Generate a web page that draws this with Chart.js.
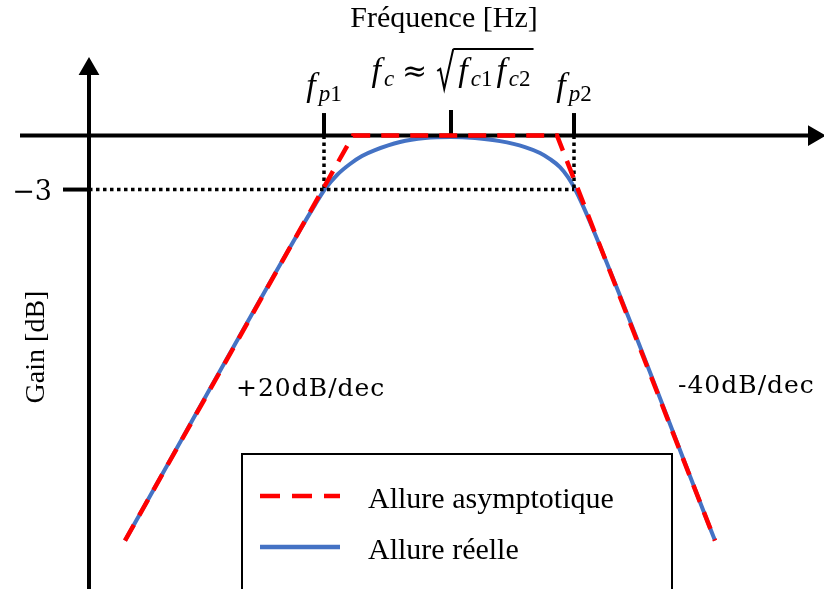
<!DOCTYPE html>
<html lang="fr">
<head>
  <meta charset="UTF-8" />
  <title>Filtre passe-bande - diagramme de Bode</title>
  <script src="https://cdn.jsdelivr.net/npm/chart.js"></script>
  <style>
    body { margin: 0; background: #fff; }
    canvas { display: block; }
  </style>
</head>
<body>
  <canvas id="bode" width="824" height="589"></canvas>

  <script>
    // x = log(f) in arbitrary decades (0 = gain axis), y = gain in dB
    const asymX = [0.36, 2.64, 4.68, 6.26];
    const asymY = [-22.5, 0, 0, -22.5];
    const realX = [0.36, 2.11, 2.26, 2.36, 2.48, 2.61, 2.73, 2.86, 3.11, 3.36, 3.62, 3.86, 4.11, 4.36, 4.51, 4.61, 4.71, 4.79, 4.86, 5.01, 6.26];
    const realY = [-22.5, -5.25, -3.85, -2.97, -2.19, -1.58, -1.14, -0.81, -0.36, -0.14, -0.08, -0.14, -0.31, -0.64, -0.97, -1.31, -1.75, -2.31, -2.97, -4.8, -22.5];
    const freqTicks = [2.35, 3.62, 4.85];      // fp1, fc, fp2
    const freqTickTop = [1.25, 1.42, 1.25];
    const gainTick = -3;
    const axisX = [-0.69, 7.25];               // frequency axis extent
    const axisY = [-26, 3.69];                 // gain axis extent
    const slopeText = ['+20dB/dec', '-40dB/dec'];
    const slopeAt = [[1.47, -14.47], [5.89, -14.3]];
    const legendText = ['Allure asymptotique', 'Allure réelle'];

    const RED = '#ff0000';
    const BLUE = '#4472c4';
    const pts = (xs, ys) => xs.map((x, i) => ({ x, y: ys[i] }));
    const seg = (a, b) => [a, b];

    const black = { borderColor: '#000', borderWidth: 4, pointRadius: 0, order: 1 };
    const dotted = { borderColor: '#000', borderWidth: 3.5, borderDash: [3.5, 3.5], pointRadius: 0, order: 1 };

    const datasets = [
      { label: legendText[0], data: pts(asymX, asymY), borderColor: RED, borderWidth: 4.5,
        borderDash: [18, 11], pointRadius: 0, order: 0 },
      { label: legendText[1], data: pts(realX, realY), borderColor: BLUE, borderWidth: 4,
        cubicInterpolationMode: 'monotone', pointRadius: 0, order: 2 },
      // axes with arrow heads
      { ...black, data: seg({ x: axisX[0], y: 0 }, { x: axisX[1], y: 0 }),
        pointRadius: [0, 8], pointStyle: 'triangle', pointRotation: 90, pointBackgroundColor: '#000', pointBorderColor: '#000' },
      { ...black, data: seg({ x: 0, y: axisY[0] }, { x: 0, y: axisY[1] }),
        pointRadius: [0, 8], pointStyle: 'triangle', pointRotation: 0, pointBackgroundColor: '#000', pointBorderColor: '#000' },
      // gain tick
      { ...black, data: seg({ x: -0.26, y: gainTick }, { x: 0, y: gainTick }) },
      // dotted -3 dB guides
      { ...dotted, data: seg({ x: 0, y: gainTick }, { x: freqTicks[2], y: gainTick }) },
      { ...dotted, data: seg({ x: freqTicks[0], y: 0 }, { x: freqTicks[0], y: gainTick }) },
      { ...dotted, data: seg({ x: freqTicks[2], y: 0 }, { x: freqTicks[2], y: gainTick }) }
    ];
    freqTicks.forEach((f, i) => {
      datasets.push({ ...black, data: seg({ x: f, y: 0 }, { x: f, y: freqTickTop[i] }) });
    });

    const SERIF = '"Liberation Serif", serif';
    const IT = 'italic 34px ' + SERIF;
    const SUB = 'italic 23px ' + SERIF;
    const SUBUP = '23px ' + SERIF;

    // draws a row of text runs centred on cx; run.gap = blank space, run.sqrt = radical
    function drawRuns(ctx, runs, cx, base) {
      let total = 0;
      runs.forEach(r => {
        if (r.t) { ctx.font = r.font; r.w = ctx.measureText(r.t).width; }
        else r.w = r.gap || r.sqrt || 0;
        total += r.w;
      });
      let x = cx - total / 2;
      let sqrtStart = null;
      runs.forEach(r => {
        if (r.t) {
          ctx.font = r.font;
          ctx.fillText(r.t, x, base + (r.dy || 0));
        }
        if (r.sqrt) {
          ctx.save();
          ctx.lineWidth = 2;
          ctx.beginPath();
          ctx.moveTo(x, base - 10);
          ctx.lineTo(x + 3, base - 12);
          ctx.lineTo(x + 7, base + 8);
          ctx.lineTo(x + r.w - 1, base - 32);
          ctx.stroke();
          ctx.restore();
          sqrtStart = x + r.w - 1;
        }
        x += r.w;
      });
      if (sqrtStart !== null) {
        ctx.save();
        ctx.lineWidth = 2;
        ctx.beginPath();
        ctx.moveTo(sqrtStart, base - 32);
        ctx.lineTo(x + 3, base - 32);
        ctx.stroke();
        ctx.restore();
      }
    }

    const annotations = {
      id: 'annotations',
      afterDraw(chart) {
        const { ctx, scales: { x, y } } = chart;
        ctx.save();
        ctx.fillStyle = '#000';
        ctx.strokeStyle = '#000';
        ctx.textBaseline = 'alphabetic';

        // titles
        ctx.font = '30px ' + SERIF;
        ctx.textAlign = 'center';
        ctx.fillText('Fréquence [Hz]', 444, 27);
        ctx.save();
        ctx.translate(44, 347);
        ctx.rotate(-Math.PI / 2);
        ctx.font = '28px ' + SERIF;
        ctx.fillText('Gain [dB]', 0, 0);
        ctx.restore();

        // -3 label
        ctx.textAlign = 'right';
        ctx.font = '27px "DejaVu Serif", serif';
        ctx.fillText('\u22123', 52, y.getPixelForValue(gainTick) + 10);

        // frequency labels
        ctx.textAlign = 'left';
        drawRuns(ctx, [
          { t: 'f', font: IT }, { gap: 3 }, { t: 'p', font: SUB, dy: 5 }, { t: '1', font: SUBUP, dy: 5 }
        ], x.getPixelForValue(freqTicks[0]), 96);
        drawRuns(ctx, [
          { t: 'f', font: IT }, { gap: 3 }, { t: 'p', font: SUB, dy: 5 }, { t: '2', font: SUBUP, dy: 5 }
        ], x.getPixelForValue(freqTicks[2]), 96);
        drawRuns(ctx, [
          { t: 'f', font: IT }, { gap: 3 }, { t: 'c', font: SUB, dy: 5 }, { gap: 8 },
          { t: '\u2248', font: '30px "DejaVu Serif", serif' }, { gap: 10 },
          { sqrt: 17 }, { gap: 4 },
          { t: 'f', font: IT }, { gap: 3 }, { t: 'c', font: SUB, dy: 5 }, { t: '1', font: SUBUP, dy: 5 }, { gap: 4 },
          { t: 'f', font: IT }, { gap: 3 }, { t: 'c', font: SUB, dy: 5 }, { t: '2', font: SUBUP, dy: 5 }
        ], x.getPixelForValue(freqTicks[1]), 81);

        // slopes
        ctx.font = '25px "DejaVu Serif", serif';
        ctx.letterSpacing = '1px';
        slopeText.forEach((t, i) => {
          ctx.fillText(t, x.getPixelForValue(slopeAt[i][0]), y.getPixelForValue(slopeAt[i][1]));
        });
        ctx.letterSpacing = '0px';

        // legend box
        ctx.lineWidth = 2;
        ctx.strokeRect(242, 454, 430, 160);
        const ds = chart.data.datasets;
        [496, 547].forEach((ly, i) => {
          ctx.save();
          ctx.strokeStyle = ds[i].borderColor;
          ctx.lineWidth = 4.5;
          ctx.setLineDash(i === 0 ? [20, 12] : []);
          ctx.beginPath();
          ctx.moveTo(260, ly);
          ctx.lineTo(340, ly);
          ctx.stroke();
          ctx.restore();
          ctx.font = '30px ' + SERIF;
          ctx.fillText(ds[i].label, 368, ly + 12);
        });
        ctx.restore();
      }
    };

    new Chart(document.getElementById('bode'), {
      type: 'scatter',
      data: { datasets },
      options: {
        responsive: false,
        animation: false,
        devicePixelRatio: 1,
        showLine: true,
        layout: { padding: 0, autoPadding: false },
        scales: {
          x: { type: 'linear', min: -0.89, max: 7.35, display: false },
          y: { type: 'linear', min: -25.19, max: 7.53, display: false }
        },
        plugins: {
          legend: { display: false },
          tooltip: { enabled: false }
        }
      },
      plugins: [annotations]
    });
  </script>
</body>
</html>
